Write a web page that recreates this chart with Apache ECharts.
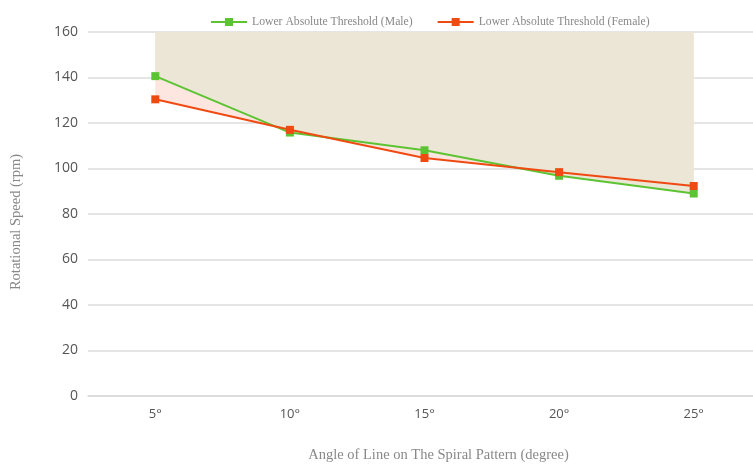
<!DOCTYPE html>
<html><head><meta charset="utf-8">
<script src="https://cdn.jsdelivr.net/npm/echarts@6/dist/echarts.min.js"></script>
<style>html,body{margin:0;padding:0;background:#fff}#c{width:753px;height:470px}</style>
</head><body><div id="c"></div>
<script>
const categories = ['5°', '10°', '15°', '20°', '25°'];
const maleValues = [140.6, 115.8, 108.0, 96.8, 89.0];
const femaleValues = [130.4, 117.0, 104.6, 98.4, 92.3];
const yTicks = [0, 20, 40, 60, 80, 100, 120, 140, 160];
const maleName = 'Lower Absolute Threshold (Male)';
const femaleName = 'Lower Absolute Threshold (Female)';

const chart = echarts.init(document.getElementById('c'));
chart.setOption({
  animation: false,
  backgroundColor: '#fff',
  grid: { left: 88, width: 673, top: 32, bottom: 74, outerBoundsMode: 'none', containLabel: false },
  legend: {
    data: [maleName, femaleName],
    top: 11, left: 205,
    itemWidth: 36, itemHeight: 10, itemGap: 24,
    textStyle: { fontFamily: 'Liberation Serif', fontSize: 11.7, color: '#888' }
  },
  xAxis: {
    type: 'category', data: categories, boundaryGap: true,
    axisLine: { show: true, lineStyle: { color: '#d9d9d9', width: 1.5 } },
    axisTick: { show: false },
    axisLabel: { margin: 12, fontFamily: 'Open Sans', fontSize: 13, color: '#555' },
    name: 'Angle of Line on The Spiral Pattern (degree)',
    nameLocation: 'middle', nameGap: 52,
    nameTextStyle: { fontFamily: 'Liberation Serif', fontSize: 14.5, color: '#888', padding: [0, 0, 0, 28] }
  },
  yAxis: {
    type: 'value', min: yTicks[0], max: yTicks[yTicks.length - 1], interval: 20,
    axisLine: { show: false }, axisTick: { show: false },
    axisLabel: { margin: 10, fontFamily: 'Open Sans', fontSize: 14, color: '#555' },
    splitLine: { lineStyle: { color: '#dcdcdc', width: 1.5 } },
    name: 'Rotational Speed (rpm)', nameLocation: 'middle', nameGap: 64,
    nameTextStyle: { fontFamily: 'Liberation Serif', fontSize: 14.5, color: '#888', padding: [0, 16, 0, 0] }
  },
  series: [
    {
      name: 'femaleArea', type: 'line', data: femaleValues, symbol: 'none',
      lineStyle: { width: 0 }, areaStyle: { origin: 'end', color: '#fde6e0', opacity: 1 },
      z: 1, silent: true
    },
    {
      name: 'maleArea', type: 'line', data: maleValues, symbol: 'none',
      lineStyle: { width: 0 }, areaStyle: { origin: 'end', color: '#ece6d6', opacity: 1 },
      z: 2, silent: true
    },
    {
      name: maleName, type: 'line', data: maleValues, symbol: 'rect', symbolSize: 8,
      itemStyle: { color: '#5cc432' }, lineStyle: { color: '#5cc432', width: 2 }, z: 3
    },
    {
      name: femaleName, type: 'line', data: femaleValues, symbol: 'rect', symbolSize: 8,
      itemStyle: { color: '#ef4a12' }, lineStyle: { color: '#ef4a12', width: 2 }, z: 4
    }
  ]
});
</script></body></html>
